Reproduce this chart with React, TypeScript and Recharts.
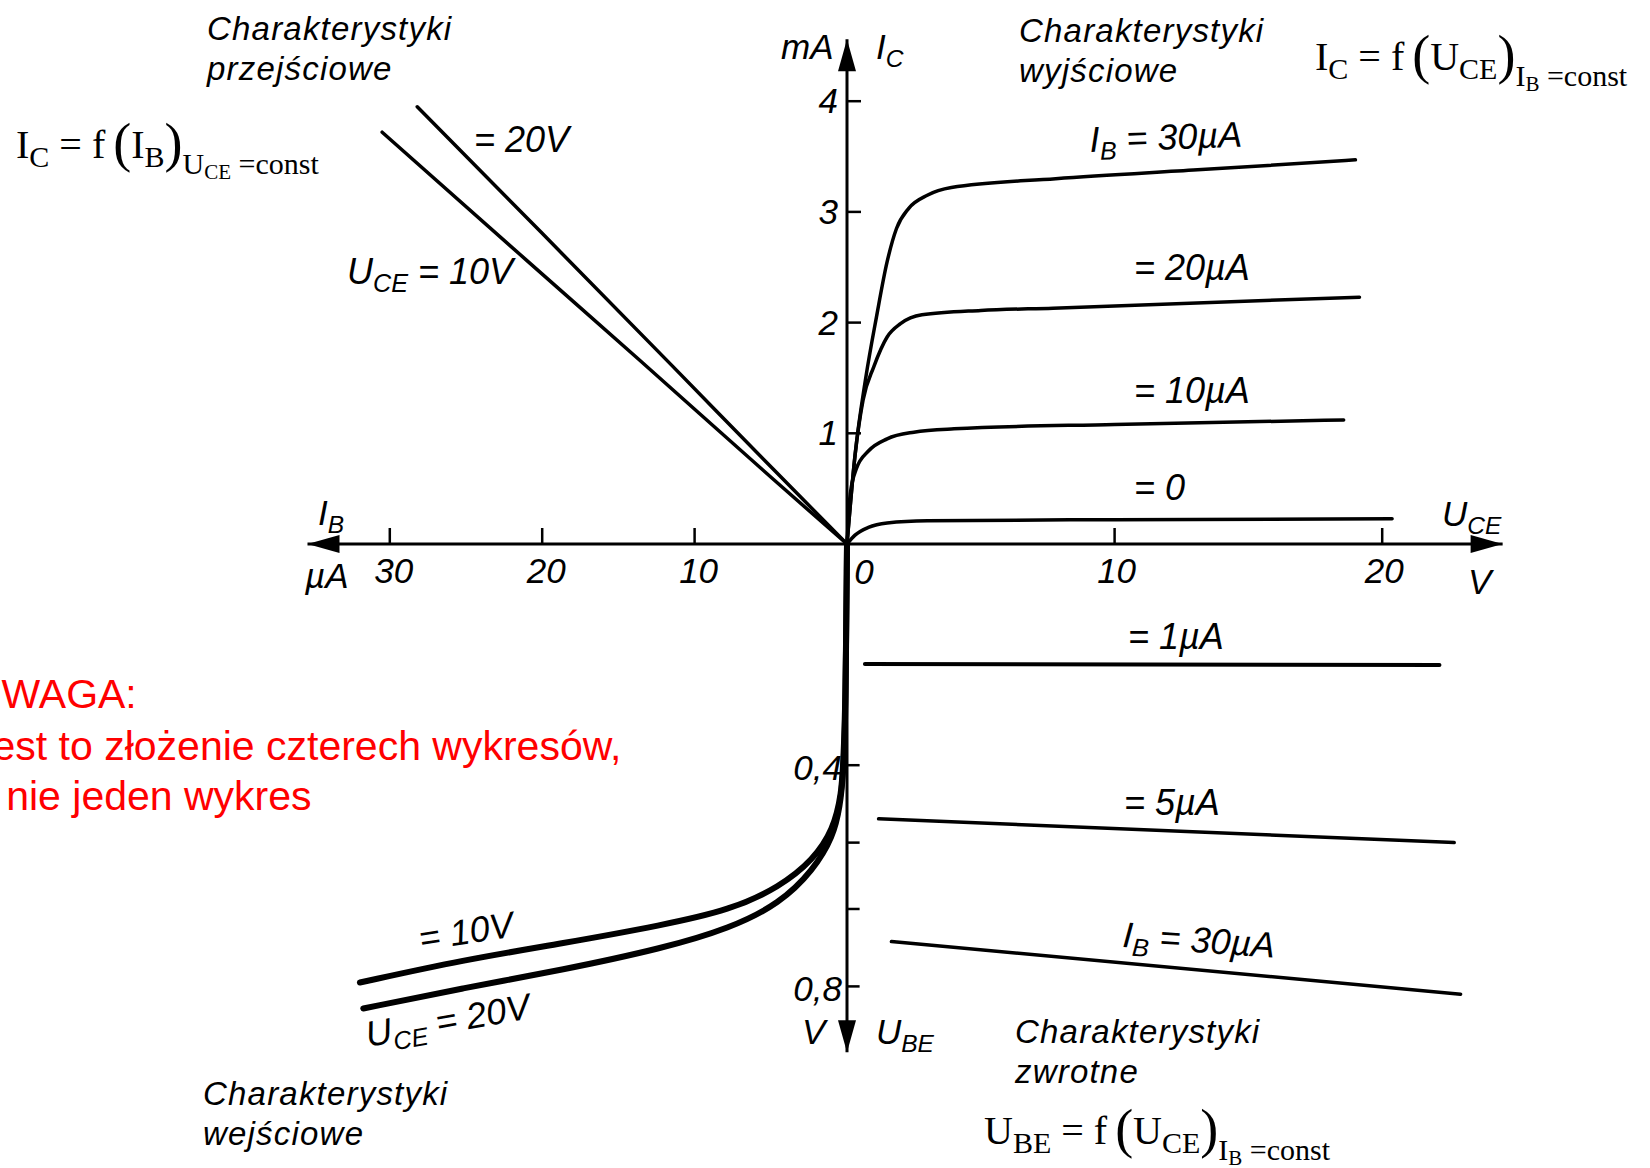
import React from "react";
import { LineChart, Line, XAxis, YAxis, ReferenceLine, ReferenceDot } from "recharts";

const WIDTH = 1650;
const HEIGHT = 1168;
const INK = "#000";
const SANS = '"Liberation Sans", Arial, Helvetica, sans-serif';
const SERIF = '"Liberation Serif", "Times New Roman", serif';

// where the four half-axes cross, and the length of one unit on each of them
const ORIGIN_X = 847;
const ORIGIN_Y = 544;
const PX_PER_V = 26.76; // U_CE, to the right
const PX_PER_UA = 15.24; // I_B, to the left
const PX_PER_MA = 110.7; // I_C, upwards
const PX_PER_UBE = 553; // U_BE, downwards

// all four diagrams share one frame: x counted in volts of U_CE, y in mA of I_C
const IB_K = PX_PER_UA / PX_PER_V;
const UBE_K = PX_PER_UBE / PX_PER_MA;
const X_DOMAIN: [number, number] = [-ORIGIN_X / PX_PER_V, (WIDTH - ORIGIN_X) / PX_PER_V];
const Y_DOMAIN: [number, number] = [-(HEIGHT - ORIGIN_Y) / PX_PER_MA, ORIGIN_Y / PX_PER_MA];

// reach of each half-axis, in its own unit
const UCE_END = 24.5;
const IB_END = 35.4;
const IC_END = 4.56;
const UBE_END = 0.919;

// ---- wyjściowe: I_C [mA] vs U_CE [V], I_B = const
const outIB0 = [
  { uce: 0, ic: 0 }, { uce: 0.3, ic: 0.08 }, { uce: 0.8, ic: 0.15 }, { uce: 1.5, ic: 0.19 },
  { uce: 3, ic: 0.21 }, { uce: 10, ic: 0.22 }, { uce: 20.37, ic: 0.228 },
];
const outIB10 = [
  { uce: 0, ic: 0 }, { uce: 0.12, ic: 0.45 }, { uce: 0.35, ic: 0.68 }, { uce: 0.8, ic: 0.84 },
  { uce: 1.5, ic: 0.95 }, { uce: 2.5, ic: 1.01 }, { uce: 4, ic: 1.04 }, { uce: 10, ic: 1.08 },
  { uce: 18.56, ic: 1.12 },
];
const outIB20 = [
  { uce: 0, ic: 0 }, { uce: 0.3, ic: 0.8 }, { uce: 0.6, ic: 1.3 }, { uce: 1.0, ic: 1.6 },
  { uce: 1.5, ic: 1.87 }, { uce: 2.0, ic: 1.99 }, { uce: 2.8, ic: 2.07 }, { uce: 5, ic: 2.11 },
  { uce: 7.7, ic: 2.13 }, { uce: 19.15, ic: 2.23 },
];
const outIB30 = [
  { uce: 0, ic: 0 }, { uce: 0.3, ic: 0.8 }, { uce: 0.7, ic: 1.5 }, { uce: 1.1, ic: 2.05 },
  { uce: 1.5, ic: 2.55 }, { uce: 1.85, ic: 2.85 }, { uce: 2.3, ic: 3.03 }, { uce: 3, ic: 3.15 },
  { uce: 3.9, ic: 3.22 }, { uce: 7.8, ic: 3.3 }, { uce: 13.1, ic: 3.38 }, { uce: 19, ic: 3.47 },
];

// ---- przejściowe: I_C [mA] vs I_B [µA], U_CE = const
const transUCE10 = [
  { ib: 0, ic: 0 }, { ib: 4.8, ic: 0.58 }, { ib: 13.6, ic: 1.66 }, { ib: 21, ic: 2.56 }, { ib: 30.5, ic: 3.72 },
];
const transUCE20 = [
  { ib: 0, ic: 0 }, { ib: 4.8, ic: 0.67 }, { ib: 11.4, ic: 1.6 }, { ib: 20.1, ic: 2.82 }, { ib: 28.2, ic: 3.95 },
];

// ---- wejściowe: U_BE [V] vs I_B [µA], U_CE = const
const inUCE10 = [
  { ib: 0, ube: 0 }, { ib: 0.1, ube: 0.3 }, { ib: 0.24, ube: 0.391 }, { ib: 0.35, ube: 0.451 },
  { ib: 0.9, ube: 0.517 }, { ib: 2.21, ube: 0.571 }, { ib: 4.4, ube: 0.62 }, { ib: 7.68, ube: 0.662 },
  { ib: 12.06, ube: 0.689 }, { ib: 18.62, ube: 0.722 }, { ib: 25.18, ube: 0.752 }, { ib: 31.96, ube: 0.793 },
];
const inUCE20 = [
  { ib: 0, ube: 0 }, { ib: 0.1, ube: 0.32 }, { ib: 0.24, ube: 0.415 }, { ib: 0.46, ube: 0.475 },
  { ib: 0.9, ube: 0.529 }, { ib: 2.21, ube: 0.59 }, { ib: 4.4, ube: 0.65 }, { ib: 7.68, ube: 0.695 },
  { ib: 12.06, ube: 0.731 }, { ib: 18.62, ube: 0.77 }, { ib: 25.18, ube: 0.803 }, { ib: 31.74, ube: 0.84 },
];

// ---- zwrotne: U_BE [V] vs U_CE [V], I_B = const
const revIB1 = [{ uce: 0.67, ube: 0.217 }, { uce: 22.14, ube: 0.219 }];
const revIB5 = [{ uce: 1.18, ube: 0.497 }, { uce: 22.69, ube: 0.54 }];
const revIB30 = [{ uce: 1.66, ube: 0.719 }, { uce: 22.93, ube: 0.814 }];

// axis ticks
const uceTicks = [10, 20];
const ibTicks = [10, 20, 30];
const icTicks = [1, 2, 3, 4];
const ubeTicks = [0.4, 0.8];
const ubeMinorTicks = [0.54, 0.66];

const xy = (x: number, y: number) => ({ x, y });
const fromOutput = (d: { uce: number; ic: number }[]) => d.map((p) => xy(p.uce, p.ic));
// left half runs the other way, so flip the order to keep x rising
const fromTransfer = (d: { ib: number; ic: number }[]) =>
  d.slice().reverse().map((p) => xy(-p.ib * IB_K, p.ic));
const fromInput = (d: { ib: number; ube: number }[]) =>
  d.slice().reverse().map((p) => xy(-p.ib * IB_K, -p.ube * UBE_K));
const fromReverse = (d: { uce: number; ube: number }[]) => d.map((p) => xy(p.uce, -p.ube * UBE_K));

const curves = [
  { id: "out0", points: fromOutput(outIB0), type: "monotoneX", width: 3.5 },
  { id: "out10", points: fromOutput(outIB10), type: "monotoneX", width: 3.5 },
  { id: "out20", points: fromOutput(outIB20), type: "monotoneX", width: 3.5 },
  { id: "out30", points: fromOutput(outIB30), type: "monotoneX", width: 3.5 },
  { id: "tr10", points: fromTransfer(transUCE10), type: "monotoneX", width: 3.5 },
  { id: "tr20", points: fromTransfer(transUCE20), type: "monotoneX", width: 3.5 },
  { id: "in10", points: fromInput(inUCE10), type: "basis", width: 6 },
  { id: "in20", points: fromInput(inUCE20), type: "basis", width: 6 },
  { id: "rev1", points: fromReverse(revIB1), type: "linear", width: 4 },
  { id: "rev5", points: fromReverse(revIB5), type: "linear", width: 3.5 },
  { id: "rev30", points: fromReverse(revIB30), type: "linear", width: 3.5 },
];

const fmtComma = (v: number) => v.toFixed(1).replace(".", ",");

// tick label drawn next to the point the scale gives
const tickText = (label: string, dx: number, dy: number, anchor: "start" | "middle" | "end", size = 35) =>
  (p: any) => (
    <text x={p.cx + dx} y={p.cy + dy} textAnchor={anchor} fontFamily={SANS} fontStyle="italic" fontSize={size} fill={INK}>
      {label}
    </text>
  );

const arrowHead = (dir: "left" | "right" | "up" | "down") => (p: any) => {
  const { cx, cy } = p;
  const L = 32;
  const w = 9;
  let pts: number[][];
  if (dir === "right") pts = [[cx, cy], [cx - L, cy - w], [cx - L, cy + w]];
  else if (dir === "left") pts = [[cx, cy], [cx + L, cy - w], [cx + L, cy + w]];
  else if (dir === "up") pts = [[cx, cy], [cx - w, cy + L], [cx + w, cy + L]];
  else pts = [[cx, cy], [cx - w, cy - L], [cx + w, cy - L]];
  return <polygon points={pts.map((q) => q.join(",")).join(" ")} fill={INK} />;
};

function Lbl({ x, y, pre, sub, post = "", rotate = 0, size = 36 }: {
  x: number; y: number; pre: string; sub?: string; post?: string; rotate?: number; size?: number;
}) {
  return (
    <text x={x} y={y} fontFamily={SANS} fontStyle="italic" fontSize={size} fill={INK}
      transform={rotate ? `rotate(${rotate} ${x} ${y})` : undefined}>
      {pre}
      {sub ? <tspan fontSize={size * 0.7} dy={8}>{sub}</tspan> : null}
      {sub && post ? <tspan fontSize={size} dy={-8}>{post}</tspan> : null}
      {!sub ? post : null}
    </text>
  );
}

function Title({ x, y, second }: { x: number; y: number; second: string }) {
  return (
    <text fontFamily={SANS} fontStyle="italic" fontSize={33} fill={INK} style={{ letterSpacing: 1.2 }}>
      <tspan x={x} y={y}>Charakterystyki</tspan>
      <tspan x={x} y={y + 40}>{second}</tspan>
    </text>
  );
}

// Y_s = f(A_s) with a "X_s =const" condition
function Formula({ x, y, f, fSub, arg, argSub, cond, condSub }: {
  x: number; y: number; f: string; fSub: string; arg: string; argSub: string; cond: string; condSub: string;
}) {
  return (
    <text x={x} y={y} fontFamily={SERIF} fontSize={40} fill={INK}>
      {f}
      <tspan fontSize={30} dy={9}>{fSub}</tspan>
      <tspan fontSize={40} dy={-9}>{" = f\u2009"}</tspan>
      <tspan fontSize={54} dy={3}>(</tspan>
      <tspan fontSize={40} dy={-3}>{arg}</tspan>
      <tspan fontSize={30} dy={9}>{argSub}</tspan>
      <tspan fontSize={54} dy={-6}>)</tspan>
      <tspan fontSize={30} dy={13}>{cond}</tspan>
      <tspan fontSize={21} dy={5}>{condSub}</tspan>
      <tspan fontSize={30} dy={-5}>{" =const"}</tspan>
    </text>
  );
}

export default function App() {
  const tickUp = 16 / PX_PER_MA;
  const tickRight = 14 / PX_PER_V;
  return (
    <div style={{ position: "absolute", left: 0, top: 0, width: WIDTH, height: HEIGHT, background: "#fff", overflow: "hidden" }}>
      <LineChart width={WIDTH} height={HEIGHT} margin={{ top: 0, right: 0, bottom: 0, left: 0 }}>
        <XAxis type="number" dataKey="x" domain={X_DOMAIN} allowDataOverflow hide />
        <YAxis type="number" dataKey="y" domain={Y_DOMAIN} allowDataOverflow hide />

        {/* the cross of axes */}
        <ReferenceLine segment={[xy(-IB_END * IB_K, 0), xy(UCE_END, 0)]} stroke={INK} strokeWidth={3} />
        <ReferenceLine segment={[xy(0, -UBE_END * UBE_K), xy(0, IC_END)]} stroke={INK} strokeWidth={3} />
        <ReferenceDot x={-IB_END * IB_K} y={0} shape={arrowHead("left")} />
        <ReferenceDot x={UCE_END} y={0} shape={arrowHead("right")} />
        <ReferenceDot x={0} y={IC_END} shape={arrowHead("up")} />
        <ReferenceDot x={0} y={-UBE_END * UBE_K} shape={arrowHead("down")} />

        {uceTicks.map((v) => (
          <ReferenceLine key={`uce${v}`} segment={[xy(v, 0), xy(v, tickUp)]} stroke={INK} strokeWidth={2.5} />
        ))}
        {ibTicks.map((v) => (
          <ReferenceLine key={`ib${v}`} segment={[xy(-v * IB_K, 0), xy(-v * IB_K, tickUp)]} stroke={INK} strokeWidth={2.5} />
        ))}
        {icTicks.map((v) => (
          <ReferenceLine key={`ic${v}`} segment={[xy(0, v), xy(tickRight, v)]} stroke={INK} strokeWidth={2.5} />
        ))}
        {ubeTicks.concat(ubeMinorTicks).map((v) => (
          <ReferenceLine key={`ube${v}`} segment={[xy(0, -v * UBE_K), xy(tickRight * 0.9, -v * UBE_K)]} stroke={INK} strokeWidth={2.5} />
        ))}

        {/* tick labels */}
        <ReferenceDot x={0} y={0} shape={tickText("0", 17, 40, "middle")} />
        {uceTicks.map((v) => (
          <ReferenceDot key={`luce${v}`} x={v} y={0} shape={tickText(String(v), 2, 39, "middle")} />
        ))}
        {ibTicks.map((v) => (
          <ReferenceDot key={`lib${v}`} x={-v * IB_K} y={0} shape={tickText(String(v), 4, 39, "middle")} />
        ))}
        {icTicks.map((v) => (
          <ReferenceDot key={`lic${v}`} x={0} y={v} shape={tickText(String(v), -9, 12, "end")} />
        ))}
        {ubeTicks.map((v) => (
          <ReferenceDot key={`lube${v}`} x={0} y={-v * UBE_K} shape={tickText(fmtComma(v), -5, 15, "end")} />
        ))}

        {curves.map((c) => (
          <Line
            key={c.id}
            data={c.points}
            dataKey="y"
            type={c.type as any}
            stroke={INK}
            strokeWidth={c.width}
            strokeLinecap="round"
            dot={false}
            activeDot={false}
            isAnimationActive={false}
          />
        ))}
      </LineChart>

      <svg width={WIDTH} height={HEIGHT} style={{ position: "absolute", left: 0, top: 0, pointerEvents: "none" }}>
        <Title x={207} y={40} second="przejściowe" />
        <Title x={1019} y={42} second="wyjściowe" />
        <Title x={1015} y={1043} second="zwrotne" />
        <Title x={203} y={1105} second="wejściowe" />

        <Formula x={16} y={158} f="I" fSub="C" arg="I" argSub="B" cond="U" condSub="CE" />
        <Formula x={1315} y={70} f="I" fSub="C" arg="U" argSub="CE" cond="I" condSub="B" />
        <Formula x={984} y={1144} f="U" fSub="BE" arg="U" argSub="CE" cond="I" condSub="B" />

        {/* axis names and units */}
        <Lbl x={318} y={525} pre="I" sub="B" size={35} />
        <Lbl x={305} y={588} pre="µA" size={35} />
        <Lbl x={781} y={59} pre="mA" size={35} />
        <Lbl x={876} y={59} pre="I" sub="C" size={35} />
        <Lbl x={1442} y={526} pre="U" sub="CE" size={35} />
        <Lbl x={1468} y={594} pre="V" size={35} />
        <Lbl x={802} y={1044} pre="V" size={35} />
        <Lbl x={876} y={1044} pre="U" sub="BE" size={35} />

        {/* curve parameters */}
        <Lbl x={1090} y={152} pre="I" sub="B" post=" = 30µA" rotate={-2} />
        <Lbl x={1134} y={280} pre="= 20µA" />
        <Lbl x={1134} y={403} pre="= 10µA" />
        <Lbl x={1134} y={500} pre="= 0" />
        <Lbl x={474} y={152} pre="= 20V" />
        <Lbl x={347} y={284} pre="U" sub="CE" post=" = 10V" />
        <Lbl x={421} y={951} pre="= 10V" rotate={-9} />
        <Lbl x={368} y={1047} pre="U" sub="CE" post=" = 20V" rotate={-10} />
        <Lbl x={1128} y={649} pre="= 1µA" />
        <Lbl x={1124} y={815} pre="= 5µA" />
        <Lbl x={1122} y={947} pre="I" sub="B" post=" = 30µA" rotate={4} />

        <text fontFamily={SANS} fontSize={41} fill="#ff0000">
          <tspan x={-28} y={708}>UWAGA:</tspan>
          <tspan x={-28} y={760}>Jest to złożenie czterech wykresów,</tspan>
          <tspan x={-28} y={810}>a nie jeden wykres</tspan>
        </text>
      </svg>
    </div>
  );
}
